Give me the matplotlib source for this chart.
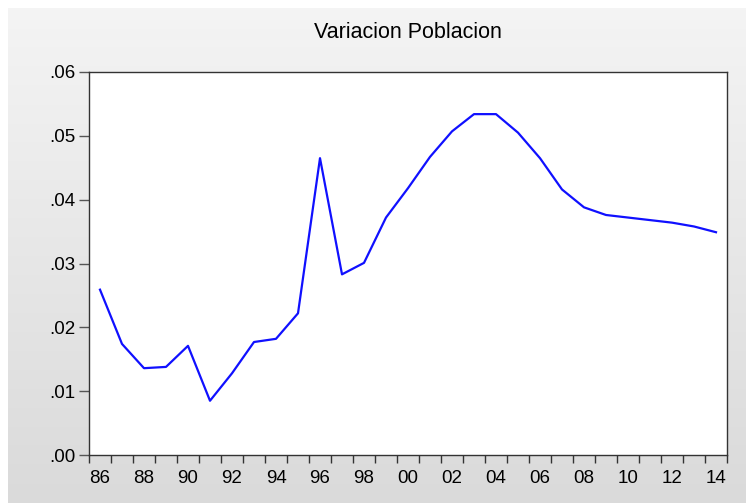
import numpy as np
import matplotlib
matplotlib.use("Agg")
import matplotlib.pyplot as plt
from matplotlib.ticker import FixedLocator, FuncFormatter

plt.rcParams['font.family'] = ['Liberation Sans', 'DejaVu Sans']

# annual observations 1986-2014
years = list(range(1986, 2015))
variacion = [0.0259, 0.0174, 0.0136, 0.0138, 0.0171, 0.0085, 0.0128, 0.0177,
             0.0182, 0.0222, 0.0465, 0.0283, 0.0301, 0.0372, 0.0418, 0.0467,
             0.0507, 0.0534, 0.0534, 0.0505, 0.0465, 0.0416, 0.0388, 0.0376,
             0.0372, 0.0368, 0.0364, 0.0358, 0.0349]
label_years = list(range(1986, 2015, 2))
y_ticks = [0.00, 0.01, 0.02, 0.03, 0.04, 0.05, 0.06]

fig = plt.figure(figsize=(7.46, 5.03), dpi=100)
fig.patch.set_facecolor('white')

# gray gradient background (white strip on top and left)
bg = fig.add_axes([0, 0, 1, 1], zorder=0)
grad = np.linspace(0.957, 0.855, 256).reshape(-1, 1)
bg.imshow(np.dstack([grad, grad, grad]), aspect='auto',
          extent=[8 / 746, 1, 0, 1 - 8 / 503])
bg.set_xlim(0, 1)
bg.set_ylim(0, 1)
bg.axis('off')

ax = fig.add_axes([89 / 746, 1 - 455 / 503, (727 - 89) / 746, (455 - 72) / 503], zorder=1)
ax.set_facecolor('white')
ax.plot(years, variacion, color='#1010ff', lw=1.6)

ax.set_xlim(1985.5, 2014.5)
ax.set_ylim(0, 0.06)

ax.xaxis.set_major_locator(FixedLocator(label_years))
ax.xaxis.set_major_formatter(FuncFormatter(lambda v, p: f"{int(v) % 100:02d}"))
ax.xaxis.set_minor_locator(FixedLocator(np.arange(1985.5, 2015, 1)))
ax.tick_params(axis='x', which='major', length=0, pad=11, labelsize=13.5)
ax.tick_params(axis='x', which='minor', direction='out', length=6, width=1, color='#333333')

ax.set_yticks(y_ticks)
ax.yaxis.set_major_formatter(FuncFormatter(lambda v, p: f"{v:.2f}"[1:]))
ax.tick_params(axis='y', direction='out', length=7, width=1, color='#555555', pad=3, labelsize=13.5)

for s in ax.spines.values():
    s.set_color('#333333')
    s.set_linewidth(1)

fig.text((89 + 727) / 2 / 746, 1 - 38.3 / 503, 'Variacion Poblacion',
         fontsize=15.5, ha='center', va='baseline')

fig.savefig('out.png', dpi=100)
